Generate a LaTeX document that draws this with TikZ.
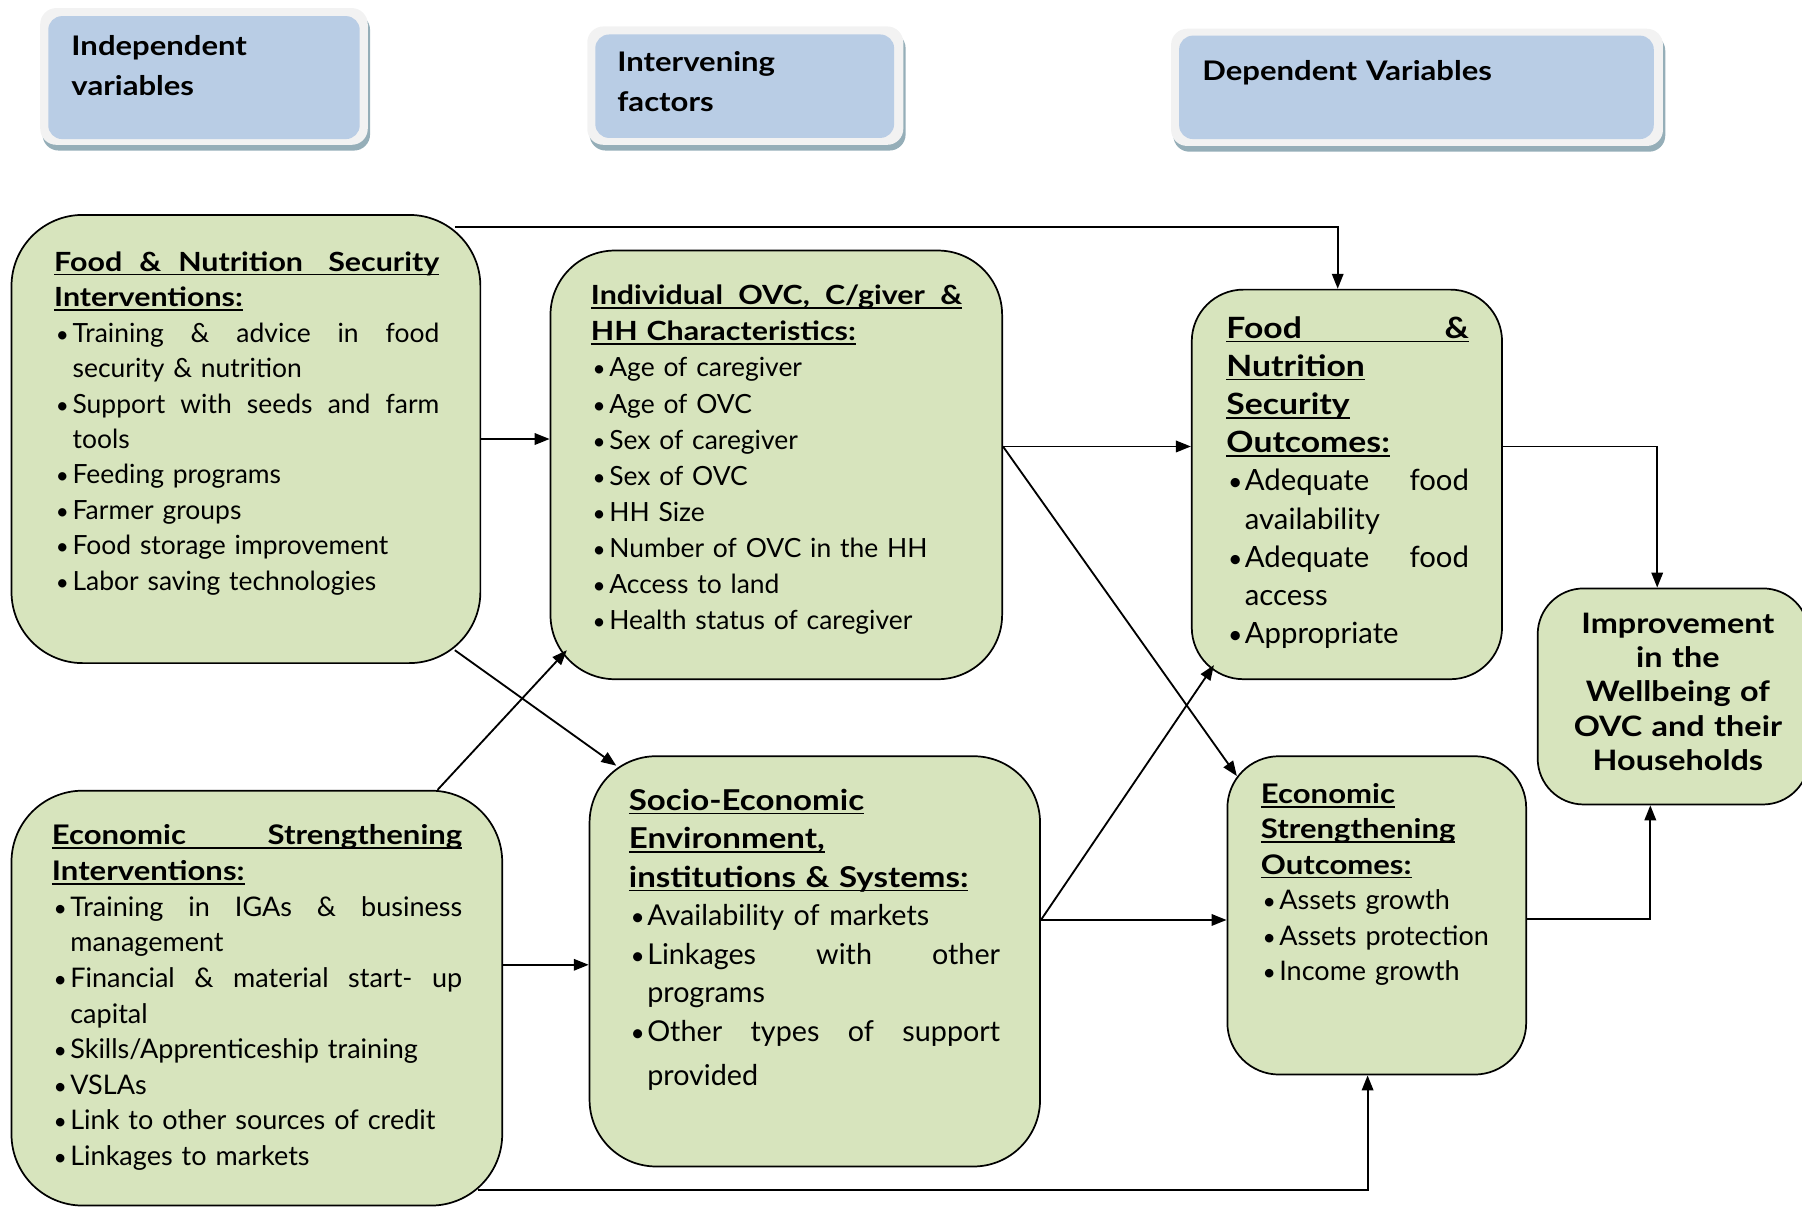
\documentclass[tikz,border=0pt]{standalone}
\usepackage{graphicx}
\usepackage{fontspec}
\setmainfont{Lato}[BoldFeatures={FakeStretch=1.15}]
\usetikzlibrary{arrows.meta}
\setlength\parindent{0pt}
\definecolor{gfill}{HTML}{D7E4BD}
\definecolor{bfill}{HTML}{B9CDE5}
\definecolor{hframecol}{HTML}{F2F2F2}
\definecolor{shadcol}{HTML}{95AEB8}
\newlength\bw \setlength\bw{16pt}
\newcommand\ulx[1]{\leavevmode\setbox0=\hbox{#1}\rlap{\rule[-3.5pt]{\wd0}{1.4pt}}\box0}
\newcommand\jl[1]{\leavevmode\hbox to\hsize{#1}}
\newcommand\jb[1]{\hbox to\dimexpr\hsize-\bw\relax{#1}}
\newcommand\bul{\leavevmode\makebox[\bw][l]{\hspace{1.5pt}\scalebox{0.85}{\textbullet}}}
\newcommand\ind{\leavevmode\hspace*{\bw}}
\newcommand\fs{\rule{0pt}{20pt}}
\tikzset{
  gbox/.style={draw, line width=1.5pt, fill=gfill, inner sep=0pt},
  hframe/.style={fill=hframecol, rounded corners=14pt, inner sep=0pt,
     preaction={fill=shadcol, transform canvas={shift={(2pt,-5pt)}}}},
  hblue/.style={fill=bfill, rounded corners=12pt, inner sep=0pt},
  txt/.style={anchor=north west, inner sep=0pt},
  htxt/.style={anchor=north west, inner sep=0pt, text width=260pt, font=\bfseries\fontsize{23.5}{35}\selectfont},
  arr/.style={-{Triangle[length=13pt,width=10pt]}, line width=1.6pt},
}
\begin{document}
\begin{tikzpicture}[x=1pt,y=-1pt]
\useasboundingbox (0,0) rectangle (1568,1050);
\clip (0,0) rectangle (1568,1050);
% headers
\node[hframe, minimum width=285pt, minimum height=119pt] (H1) at (177.5,66.5) {};
\node[hblue, minimum width=271pt, minimum height=107pt] (H1b) at (177.5,67.5) {};
\node[htxt] (H1t) at (62,28) {\fs Independent\\ variables};
\node[hframe, minimum width=275pt, minimum height=103pt] (H2) at (648.5,74.5) {};
\node[hblue, minimum width=260pt, minimum height=90pt] (H2b) at (648,75) {};
\node[htxt] (H2t) at (537,42) {\fs Intervening\\ factors};
\node[hframe, minimum width=428pt, minimum height=102pt] (H3) at (1233,76) {};
\node[hblue, minimum width=413pt, minimum height=90pt] (H3b) at (1232.5,76) {};
\node[htxt, text width=380pt] (H3t) at (1046,50) {\fs Dependent Variables};
% boxes
\node[gbox, rounded corners=62pt, minimum width=408pt, minimum height=390pt] (A) at (214,382) {};
\node[gbox, rounded corners=56pt, minimum width=393pt, minimum height=373pt] (B) at (675.5,404.5) {};
\node[gbox, rounded corners=45pt, minimum width=270pt, minimum height=339pt] (C) at (1172,421.5) {};
\node[gbox, rounded corners=40pt, minimum width=236pt, minimum height=188pt] (D) at (1456,606) {};
\node[gbox, rounded corners=62pt, minimum width=427pt, minimum height=361pt] (E) at (223.5,868.5) {};
\node[gbox, rounded corners=58pt, minimum width=392pt, minimum height=357pt] (F) at (709,836.5) {};
\node[gbox, rounded corners=45pt, minimum width=260pt, minimum height=277pt] (G) at (1198,796.5) {};
% texts
\node[txt, text width=335pt, font=\fontsize{23}{30.8}\selectfont] (At) at (47,216) {%
{\bfseries\ulx{\jl{\fs Food \hfill\& \hfill Nutrition \hfill\hfill Security}}\\
\ulx{Interventions:}}\\
\bul\jb{Training \hfill\& \hfill advice \hfill in \hfill food}\\
\ind security \& nutrition\\
\bul\jb{Support \hfill with \hfill seeds \hfill and \hfill farm}\\
\ind tools\\
\bul Feeding programs\\
\bul Farmer groups\\
\bul Food storage improvement\\
\bul Labor saving technologies};
\node[txt, text width=323pt, font=\fontsize{23}{31.4}\selectfont] (Bt) at (514,245) {%
{\bfseries\ulx{\jl{\fs Individual \hfill OVC, \hfill C/giver \hfill\&}}\\
\ulx{HH Characteristics:}}\\
\bul Age of caregiver\\
\bul Age of OVC\\
\bul Sex of caregiver\\
\bul Sex of OVC\\
\bul HH Size\\
\bul Number of OVC in the HH\\
\bul Access to land\\
\bul Health status of caregiver};
\node[txt, text width=211pt, font=\fontsize{25.5}{33.25}\selectfont] (Ct) at (1067,274) {%
{\bfseries\ulx{\jl{\fs Food \hfill\&}}\\
\ulx{Nutrition}\\
\ulx{Security}\\
\ulx{Outcomes:}}\\
\bul\jb{Adequate \hfill food}\\
\ind availability\\
\bul\jb{Adequate \hfill food}\\
\ind access\\
\bul Appropriate};
\node[anchor=north, inner sep=0pt, text width=240pt, align=center, font=\bfseries\fontsize{24.5}{29.75}\selectfont] (Dt) at (1460,531) {%
\fs Improvement\\ in the\\ Wellbeing of\\ OVC and their\\ Households};
\node[txt, text width=357pt, font=\fontsize{23.5}{31}\selectfont] (Et) at (45,715) {%
{\bfseries\ulx{\jl{\fs Economic \hfill Strengthening}}\\
\ulx{Interventions:}}\\
\bul\jb{Training \hfill in \hfill IGAs \hfill\& \hfill business}\\
\ind management\\
\bul\jb{Financial \hfill\& \hfill material \hfill start- \hfill up}\\
\ind capital\\
\bul Skills/Apprenticeship training\\
\bul VSLAs\\
\bul Link to other sources of credit\\
\bul Linkages to markets};
\node[txt, text width=323pt, font=\fontsize{25}{33.5}\selectfont] (Ft) at (547,685) {%
{\bfseries\ulx{\fs Socio-Economic}\\
\ulx{Environment,}\\
\ulx{institutions \& Systems:}}\\
\bul Availability of markets\\
\bul\jb{Linkages \hfill with \hfill other}\\
\ind programs\\
\bul\jb{Other \hfill types \hfill of \hfill support}\\[5pt]
\ind provided};
\node[txt, text width=215pt, font=\fontsize{23.5}{30.8}\selectfont] (Gt) at (1097,679) {%
{\bfseries\ulx{\fs Economic}\\
\ulx{Strengthening}\\
\ulx{Outcomes:}}\\
\bul Assets growth\\
\bul Assets protection\\
\bul Income growth};
% connectors
\coordinate (a1) at ([xshift=-23pt,yshift=-11pt]A.north east);
\draw[arr] (a1) -| ([xshift=-8pt]C.north);
\draw[arr] (A.east) -- (A.east -| B.west);
\draw[arr] ([xshift=-23pt,yshift=12pt]A.south east) -- ([xshift=24pt,yshift=-9pt]F.north west);
\draw[arr] ([xshift=-57pt]E.north east) -- ([xshift=15pt,yshift=26pt]B.south west);
\coordinate (e1) at ([yshift=29pt]E.east);
\draw[arr] (e1) -- (e1 -| F.west);
\draw[arr] ([xshift=-22pt,yshift=14pt]E.south east) -| ([xshift=-8pt]G.south);
\coordinate (b1) at ([yshift=16pt]B.east);
\draw[arr] (b1) -- (b1 -| C.west);
\draw[arr] (b1) -- ([xshift=9pt,yshift=-18pt]G.north west);
\coordinate (f1) at ([yshift=36pt]F.east);
\draw[arr] (f1) -- ([xshift=20pt,yshift=13pt]C.south west);
\draw[arr] (f1) -- (f1 -| G.west);
\coordinate (c1) at ([yshift=33pt]C.east);
\draw[arr] (c1) -| ([xshift=-14pt]D.north);
\coordinate (g1) at ([yshift=-3.5pt]G.east);
\draw[arr] (g1) -| ([xshift=-20pt]D.south);
\end{tikzpicture}
\end{document}
